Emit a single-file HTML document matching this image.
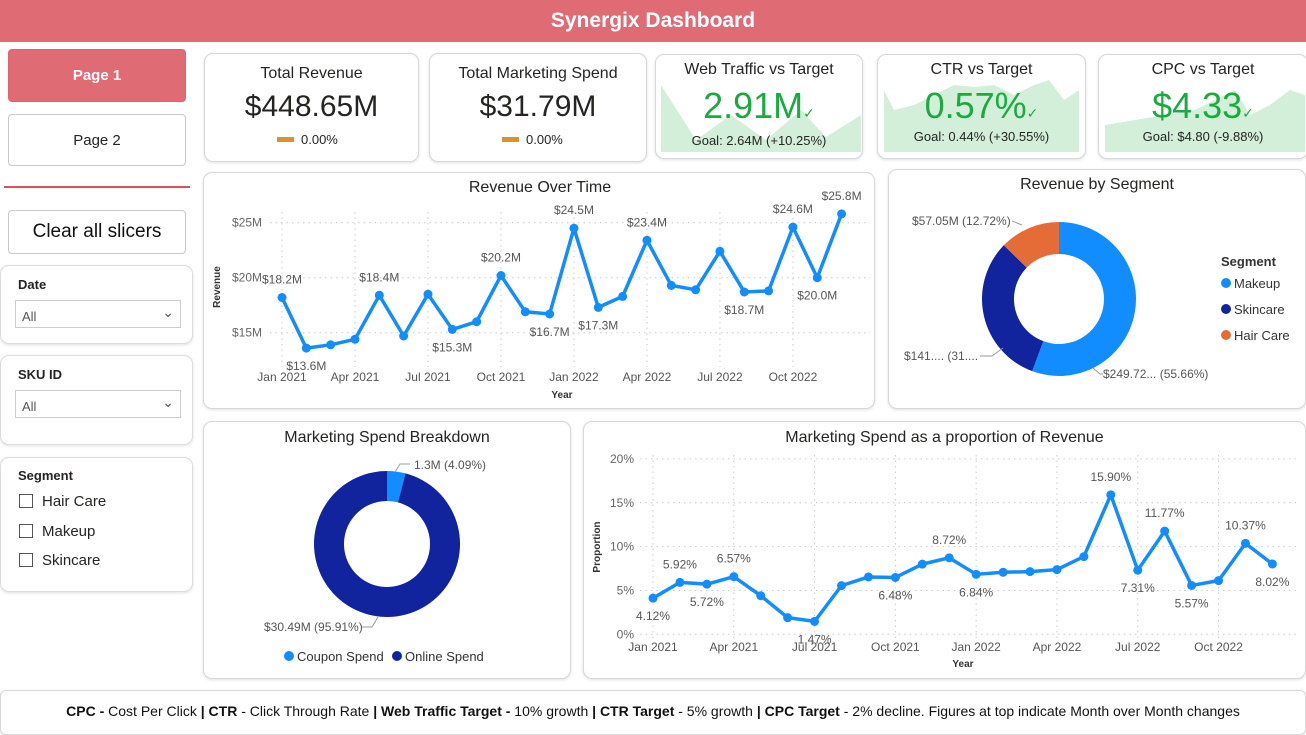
<!DOCTYPE html>
<html><head><meta charset="utf-8">
<style>
*{box-sizing:border-box;margin:0;padding:0}
body{width:1306px;height:735px;background:#fff;font-family:"Liberation Sans","DejaVu Sans",sans-serif;position:relative;overflow:hidden;color:#252423}
.abs{position:absolute}
.card{position:absolute;background:#fff;border:1px solid #d8d8d8;border-radius:9px;box-shadow:0 1px 3px rgba(0,0,0,.12)}
.btn{position:absolute;border:1px solid #c8c8c8;border-radius:4px;display:flex;align-items:center;justify-content:center;font-size:16px;background:#fff}
.ttl{position:absolute;width:100%;text-align:center;font-size:16px;color:#252423}
.big{position:absolute;width:100%;text-align:center;font-size:30px}
.sl{position:absolute;left:0;width:193px;border:1px solid #ddd;border-radius:9px;background:#fff;box-shadow:0 1px 3px rgba(0,0,0,.12)}
.dd{position:absolute;left:14px;width:166px;height:28px;border:1px solid #ccc;font-size:13px;color:#555;padding:8px 0 0 6px}
.cb{position:absolute;left:18px;font-size:15px}
.cb span{display:inline-block;width:14px;height:14px;border:1px solid #555;vertical-align:-2px;margin-right:9px}
svg text{font-family:"Liberation Sans",sans-serif}
</style></head><body>
<div class="abs" style="left:0;top:0;width:1306px;height:42px;background:#df6b74;color:#fff;font-weight:bold;font-size:21px;text-align:center;line-height:42px">Synergix Dashboard</div>

<div class="btn" style="left:8px;top:49px;width:178px;height:53px;background:#df6b74;border-color:#d86570;color:#fff;font-weight:bold;font-size:15px">Page 1</div>
<div class="btn" style="left:8px;top:114px;width:178px;height:52px;font-size:15px">Page 2</div>
<div class="abs" style="left:4px;top:186px;width:186px;height:2px;background:#d9535e"></div>
<div class="btn" style="left:8px;top:210px;width:178px;height:44px;font-size:19px;color:#111">Clear all slicers</div>

<div class="sl" style="top:265px;height:79px">
<div class="abs" style="left:17px;top:11px;font-size:13px;font-weight:bold">Date</div>
<div class="dd" style="top:34px">All<span style="position:absolute;right:6px;top:3px;font-size:14px">&#8964;</span></div></div>
<div class="sl" style="top:355px;height:90px">
<div class="abs" style="left:17px;top:11px;font-size:13px;font-weight:bold">SKU ID</div>
<div class="dd" style="top:34px">All<span style="position:absolute;right:6px;top:3px;font-size:14px">&#8964;</span></div></div>
<div class="sl" style="top:457px;height:135px">
<div class="abs" style="left:17px;top:10px;font-size:13px;font-weight:bold">Segment</div>
<div class="cb" style="top:35px"><span></span>Hair Care</div>
<div class="cb" style="top:65px"><span></span>Makeup</div>
<div class="cb" style="top:94px"><span></span>Skincare</div></div>

<div class="card" style="left:204px;top:53px;width:215px;height:109px">
<div class="ttl" style="top:11px">Total Revenue</div>
<div class="big" style="top:36px">$448.65M</div>
<div class="abs" style="left:72px;top:78px;font-size:13px"><span style="display:inline-block;width:17px;height:5px;background:#d4962c;vertical-align:2px;margin-right:7px"></span>0.00%</div></div>
<div class="card" style="left:429px;top:53px;width:218px;height:109px">
<div class="ttl" style="top:11px">Total Marketing Spend</div>
<div class="big" style="top:36px">$31.79M</div>
<div class="abs" style="left:72px;top:78px;font-size:13px"><span style="display:inline-block;width:17px;height:5px;background:#d4962c;vertical-align:2px;margin-right:7px"></span>0.00%</div></div>

<div class="card" style="left:655px;top:54px;width:208px;height:105px;overflow:hidden">
<svg class="abs" style="left:5px;top:0" width="200" height="100"><polygon points="0,30 35,85 70,60 105,85 140,55 165,82 200,60 200,97 0,97" fill="#d3efd9"/></svg>
<div class="ttl" style="top:6px">Web Traffic vs Target</div>
<div class="big" style="top:30px;color:#1aab40;font-size:36px">2.91M<span style="font-size:14px">&#10003;</span></div>
<div class="abs" style="width:100%;text-align:center;top:78px;font-size:13px">Goal: 2.64M (+10.25%)</div></div>
<div class="card" style="left:877px;top:54px;width:209px;height:105px;overflow:hidden">
<svg class="abs" style="left:6px;top:0" width="200" height="100"><polygon points="0,35 10,55 30,50 50,40 70,30 90,32 110,30 130,40 150,30 165,25 180,45 195,35 195,97 0,97" fill="#d3efd9"/></svg>
<div class="ttl" style="top:6px">CTR vs Target</div>
<div class="big" style="top:30px;color:#1aab40;font-size:36px">0.57%<span style="font-size:14px">&#10003;</span></div>
<div class="abs" style="width:100%;text-align:center;top:74px;font-size:13px">Goal: 0.44% (+30.55%)</div></div>
<div class="card" style="left:1098px;top:54px;width:210px;height:105px;overflow:hidden">
<svg class="abs" style="left:6px;top:0" width="200" height="100"><polygon points="0,70 30,65 60,60 90,55 110,45 130,35 145,60 165,50 185,35 200,40 200,97 0,97" fill="#d3efd9"/></svg>
<div class="ttl" style="top:6px">CPC vs Target</div>
<div class="big" style="top:30px;color:#1aab40;font-size:36px">$4.33<span style="font-size:14px">&#10003;</span></div>
<div class="abs" style="width:100%;text-align:center;top:74px;font-size:13px">Goal: $4.80 (-9.88%)</div></div>

<div class="card" style="left:203px;top:172px;width:672px;height:237px"></div>

<div class="card" style="left:888px;top:169px;width:418px;height:240px">
<div class="ttl" style="top:6px">Revenue by Segment</div></div>
<div class="card" style="left:203px;top:421px;width:368px;height:258px">
<div class="ttl" style="top:7px">Marketing Spend Breakdown</div></div>
<div class="card" style="left:583px;top:421px;width:723px;height:258px">
<div class="ttl" style="top:7px">Marketing Spend as a proportion of Revenue</div></div>
<svg class="abs" id="ov" style="left:0;top:0" width="1306" height="735"></svg>

<div class="card" style="left:0;top:690px;width:1306px;height:45px;border-radius:6px;font-size:14px;text-align:center;line-height:40px;color:#111"><b>CPC -</b> Cost Per Click <b>| CTR</b> - Click Through Rate <b>| Web Traffic Target -</b> 10% growth <b>| CTR Target</b> - 5% growth <b>| CPC Target</b> - 2% decline. Figures at top indicate Month over Month changes</div>

<script>
const months=["Jan 2021","Feb 2021","Mar 2021","Apr 2021","May 2021","Jun 2021","Jul 2021","Aug 2021","Sep 2021","Oct 2021","Nov 2021","Dec 2021","Jan 2022","Feb 2022","Mar 2022","Apr 2022","May 2022","Jun 2022","Jul 2022","Aug 2022","Sep 2022","Oct 2022","Nov 2022","Dec 2022"];
const revenue=[18.2,13.6,13.9,14.4,18.4,14.7,18.5,15.3,16.0,20.2,16.9,16.7,24.5,17.3,18.3,23.4,19.3,18.9,22.4,18.7,18.8,24.6,20.0,25.8];
const revTicks=[15,20,25];
const revLabelIdx=[0,1,4,7,9,11,12,13,15,19,21,22,23];
const proportion=[4.12,5.92,5.72,6.57,4.4,1.9,1.47,5.55,6.54,6.48,8.0,8.72,6.84,7.07,7.15,7.38,8.86,15.90,7.31,11.77,5.57,6.12,10.37,8.02];
const propTicks=[0,5,10,15,20];
const propLabelIdx=[0,1,2,3,6,9,11,12,17,18,19,20,22,23];
const xTickIdx=[0,3,6,9,12,15,18,21];
const xTickLabels=["Jan 2021","Apr 2021","Jul 2021","Oct 2021","Jan 2022","Apr 2022","Jul 2022","Oct 2022"];
const segNames=["Makeup","Skincare","Hair Care"];
const segValues=[249.72,141.88,57.05];
const spendNames=["Coupon Spend","Online Spend"];
const spendValues=[1.3,30.49];
const NS="http://www.w3.org/2000/svg";
function mk(p,t,a,txt){const e=document.createElementNS(NS,t);for(const k in a)e.setAttribute(k,a[k]);if(txt!==undefined)e.textContent=txt;p.appendChild(e);return e;}
const svg=document.getElementById('ov');

function lineChart(o){
 const x=i=>o.x0+i*o.dx, y=v=>o.y0-(v-o.vmin)*o.py;
 o.yTicks.forEach(t=>{mk(svg,'line',{x1:o.gx,x2:o.x1,y1:y(t),y2:y(t),stroke:'#ccc','stroke-dasharray':'1.5,4'});
  const l=mk(svg,'text',{x:o.yl,y:y(t)+4,'font-size':12,fill:'#666','text-anchor':'end'},o.fmtT(t));});
 xTickIdx.forEach((i,k)=>{mk(svg,'line',{x1:x(i),x2:x(i),y1:o.gy0,y2:o.gy1,stroke:'#ccc','stroke-dasharray':'1.5,4'});
  const l=mk(svg,'text',{x:x(i),y:o.xl,'font-size':12,fill:'#555','text-anchor':'middle'},xTickLabels[k]);});
 const pts=o.data.map((v,i)=>x(i)+','+y(v)).join(' ');
 const pl=mk(svg,'polyline',{points:pts,fill:'none',stroke:'#118dff','stroke-width':3.5,'stroke-linejoin':'round'});
 
 o.data.forEach((v,i)=>{const c=mk(svg,'circle',{cx:x(i),cy:y(v),r:4.5,fill:'#118dff'});});
 o.labels.forEach(i=>{const v=o.data[i];const up=(i===0||v>=o.data[i-1])&&(i===o.data.length-1||v>=o.data[i+1]);
  const l=mk(svg,'text',{x:x(i),y:up?y(v)-14:y(v)+22,'font-size':12,fill:'#555','text-anchor':'middle'},o.fmtL(v));});
 const t1=mk(svg,'text',{x:o.ax,y:o.ay,'font-size':10,'font-weight':'bold',fill:'#333','text-anchor':'middle',transform:`rotate(-90 ${o.ax} ${o.ay})`},o.yTitle);
 const t2=mk(svg,'text',{x:o.xtx,y:o.xty,'font-size':10,'font-weight':'bold',fill:'#333','text-anchor':'middle'},'Year');
}
mk(svg,'text',{x:540,y:192,'font-size':16,fill:'#252423','text-anchor':'middle'},'Revenue Over Time');
lineChart({name:'revenue',data:revenue,x0:282,dx:24.33,vmin:20,y0:277.7,py:11,yTicks:revTicks,gx:270,x1:870,yl:262,gy0:212,gy1:367,xl:381,labels:revLabelIdx,fmtT:t=>'$'+t+'M',fmtL:v=>'$'+v.toFixed(1)+'M',yTitle:'Revenue',ax:220,ay:287,xtx:562,xty:398});
lineChart({name:'proportion',data:proportion,x0:653,dx:26.93,vmin:0,y0:634.3,py:8.77,yTicks:propTicks,gx:640,x1:1298,yl:634,gy0:455,gy1:638,xl:651,labels:propLabelIdx,fmtT:t=>t+'%',fmtL:v=>v.toFixed(2)+'%',yTitle:'Proportion',ax:600,ay:547,xtx:963,xty:667});

function donut(cx,cy,R,r,vals,cols,name){
 const tot=vals.reduce((a,b)=>a+b,0);let a0=-Math.PI/2;
 vals.forEach((v,i)=>{const a1=a0+v/tot*2*Math.PI,lg=(a1-a0)>Math.PI?1:0;
  const P=(rad,a)=>(cx+rad*Math.cos(a))+','+(cy+rad*Math.sin(a));
  const d=`M${P(R,a0)} A${R},${R} 0 ${lg} 1 ${P(R,a1)} L${P(r,a1)} A${r},${r} 0 ${lg} 0 ${P(r,a0)}Z`;
  const p=mk(svg,'path',{d:d,fill:cols[i]});a0=a1;});
}
const segCols=['#118dff','#12239e','#e66c37'];
donut(1059,299,77,45,segValues,segCols,'segment');
const segTot=segValues.reduce((a,b)=>a+b,0);
function lbl(x,y,t,anc){const l=mk(svg,'text',{x:x,y:y,'font-size':12,fill:'#555','text-anchor':anc||'start'},t);}
lbl(1103,378,'$'+segValues[0].toFixed(2).slice(0,6)+'... ('+(segValues[0]/segTot*100).toFixed(2)+'%)');
lbl(904,360,'$141.... (31....');
lbl(912,225,'$'+segValues[2].toFixed(2)+'M ('+(segValues[2]/segTot*100).toFixed(2)+'%)');
mk(svg,'polyline',{points:'1093,368 1100,374 1103,374',fill:'none',stroke:'#999'});
mk(svg,'polyline',{points:'980,356 992,356 1003,348',fill:'none',stroke:'#999'});
mk(svg,'polyline',{points:'1012,221 1022,225',fill:'none',stroke:'#999'});
mk(svg,'text',{x:1221,y:266,'font-size':13,'font-weight':'bold',fill:'#333'},'Segment');
segNames.forEach((n,i)=>{const y=283+i*26;mk(svg,'circle',{cx:1226,cy:y,r:5,fill:segCols[i]});const t=mk(svg,'text',{x:1234,y:y+5,'font-size':13,fill:'#333'},n);});

const spCols=['#118dff','#12239e'];
donut(387,544,73,43,spendValues,spCols,'spend');
const spTot=spendValues.reduce((a,b)=>a+b,0);
lbl(414,469,spendValues[0]+'M ('+(spendValues[0]/spTot*100).toFixed(2)+'%)');
lbl(264,631,'$'+spendValues[1]+'M ('+(spendValues[1]/spTot*100).toFixed(2)+'%)');
mk(svg,'polyline',{points:'395,472 400,464 410,464',fill:'none',stroke:'#999'});
mk(svg,'polyline',{points:'362,627 372,627 378,617',fill:'none',stroke:'#999'});
spendNames.forEach((n,i)=>{const x=i?397:289;mk(svg,'circle',{cx:x,cy:656,r:5,fill:spCols[i]});const t=mk(svg,'text',{x:x+8,y:661,'font-size':13,fill:'#333'},n);});
</script>
</body></html>
